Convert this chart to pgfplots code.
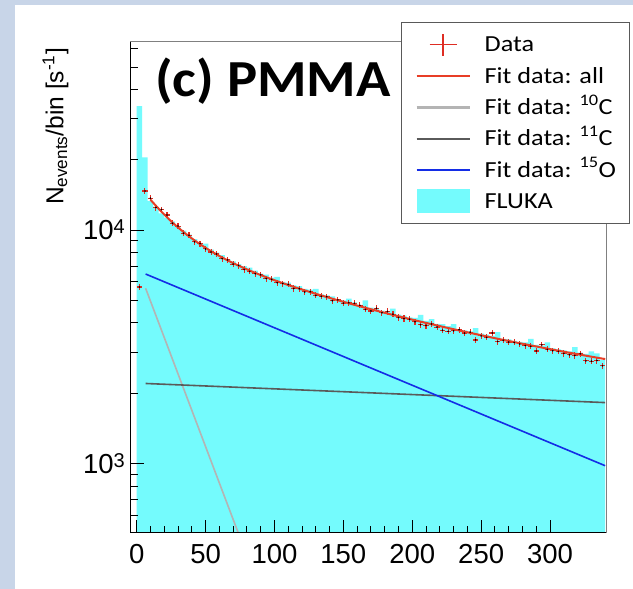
\documentclass[border=0pt]{standalone}
\usepackage{pgfplots}
\pgfplotsset{compat=1.18}
\usepackage{pgfplotstable}
\usepackage{fontspec}
\setmainfont{Liberation Sans}
\newfontfamily\calibri{Carlito}[FakeStretch=1.14]
\newfontfamily\calibrititle{Carlito}[FakeStretch=1.09]
\definecolor{bgblue}{RGB}{200,213,232}
\definecolor{fluka}{RGB}{116,251,253}
\definecolor{fitred}{RGB}{232,62,38}
\definecolor{datared}{RGB}{222,45,35}
\definecolor{cten}{RGB}{180,180,180}
\definecolor{celeven}{RGB}{90,90,90}
\definecolor{ofifteen}{RGB}{20,45,230}

\pgfplotstableread{
t data
2 5700
6 14700
10 13700
14 12500
18 12250
22 11600
26 10700
30 10400
34 9700
38 9500
42 8900
46 8750
50 8300
54 8050
58 7900
62 7550
66 7450
70 7150
74 7050
78 6780
82 6650
86 6500
90 6430
94 6200
98 6150
102 5950
106 5900
110 5850
114 5620
118 5600
122 5430
126 5440
130 5250
134 5200
138 5180
142 4980
146 5020
150 4860
154 4880
158 4850
162 4760
166 4570
170 4500
174 4620
178 4420
182 4480
186 4360
190 4220
194 4180
198 4150
202 4050
206 3930
210 3900
214 3960
218 3840
222 3720
226 3680
230 3700
234 3740
238 3620
242 3650
246 3380
250 3520
254 3470
258 3620
262 3330
266 3370
270 3310
274 3300
278 3250
282 3200
286 3180
290 3030
294 3220
298 3080
302 3040
306 3020
310 2960
314 2920
318 2900
322 2950
326 2750
330 2740
334 2760
338 2620
}\datatab

\pgfplotstableread{
x y
0 34000
4 20500
8 13300
12 12600
16 11800
20 11300
24 10900
28 10300
32 9950
36 9550
40 9150
44 8800
48 8750
52 8250
56 8000
60 7800
64 7500
68 7350
72 7150
76 7000
80 6900
84 6700
88 6500
92 6450
96 6250
100 6300
104 6000
108 5950
112 5800
116 5750
120 5600
124 5550
128 5600
132 5300
136 5250
140 5200
144 5050
148 5000
152 5080
156 4900
160 4780
164 5000
168 4650
172 4580
176 4520
180 4450
184 4600
188 4340
192 4300
196 4220
200 4200
204 4330
208 4080
212 4150
216 3960
220 3950
224 3880
228 3950
232 3760
236 3720
240 3680
244 3800
248 3600
252 3560
256 3520
260 3650
264 3420
268 3400
272 3350
276 3320
280 3300
284 3420
288 3220
292 3200
296 3300
300 3110
304 3080
308 3050
312 3020
316 3150
320 2980
324 2950
328 3020
332 2960
336 2780
340 2780
}\flukatab

\pgfplotstableread{
t y
10 13500
14 12703
18 11983
22 11344
26 10774
30 10265
34 9809
38 9398
42 9029
46 8695
50 8392
54 8115
58 7862
62 7630
66 7417
70 7219
74 7036
78 6865
82 6705
86 6555
90 6414
94 6281
98 6155
102 6035
106 5921
110 5813
114 5708
118 5609
122 5513
126 5420
130 5331
134 5245
138 5161
142 5080
146 5002
150 4926
154 4853
158 4781
162 4711
166 4643
170 4577
174 4513
178 4450
182 4388
186 4328
190 4270
194 4214
198 4158
202 4104
206 4051
210 4000
214 3949
218 3900
222 3851
226 3804
230 3758
234 3713
238 3668
242 3625
246 3583
250 3542
254 3500
258 3460
262 3421
266 3383
270 3346
274 3309
278 3273
282 3238
286 3204
290 3170
294 3137
298 3104
302 3072
306 3041
310 3010
314 2980
318 2951
322 2922
326 2894
330 2866
334 2839
338 2812
340 2799
}\fittab

\begin{document}
\begin{tikzpicture}[x=1pt,y=1pt]
\fill[bgblue] (0,0) rectangle (633,589);
\fill[white] (15,0) rectangle (633,584);
\begin{axis}[
  at={(131pt,56pt)}, anchor=south west,
  scale only axis, width=475pt, height=491pt,
  xmin=-4.1, xmax=340.6, ymode=log, ymin=503, ymax=64000,
  axis on top,
  axis line style={draw=black!50, line width=1pt},
  tick pos=left, tick align=inside,
  major tick length=13pt, minor tick length=7pt,
  tick style={black, line width=0.9pt},
  xtick={0,50,...,300}, xticklabels={0,50,100,150,200,250,300},
  minor x tick num=4,
  ytick={1000,10000},
  yticklabels={{10\raisebox{6pt}{\fontsize{20}{20}\selectfont 3}},{10\raisebox{6pt}{\fontsize{20}{20}\selectfont 4}}},
  minor ytick={600,700,800,900,2000,3000,4000,5000,6000,7000,8000,9000,20000,30000,40000,50000,60000},
  ticklabel style={font=\fontsize{27.5}{30}\selectfont, inner sep=0pt},
  xticklabel style={anchor=base, yshift=-31pt},
  yticklabel style={anchor=east, xshift=-6pt},
  legend style={at={(0.5684,1.0401)}, anchor=north west, draw=black!65, line width=1pt, fill=white,
    inner xsep=14pt, inner ysep=8pt, row sep=3.3pt, column sep=14pt,
    font=\calibri\fontsize{23}{28}\selectfont,
    nodes={inner sep=0pt, text height=21pt, text depth=7pt}, cells={anchor=west}},
  after end axis/.code={\draw[black, line width=1pt] (rel axis cs:0,1) -- (rel axis cs:0,0) -- (rel axis cs:1,0);},
]
\addlegendimage{legend image code/.code={\path[draw=none,fill=none] (0pt,0pt) -- (53pt,0pt); \draw[datared, line width=1.2pt, overlay] (13pt,0pt) -- (40pt,0pt) (26.5pt,-11pt) -- (26.5pt,11pt);}}
\addlegendentry{Data}
\addlegendimage{legend image code/.code={\draw[fitred, line width=2.2pt] (0pt,0pt) -- (53pt,0pt);}}
\addlegendentry{Fit data: all}
\addlegendimage{legend image code/.code={\draw[cten, line width=2.2pt] (0pt,0pt) -- (53pt,0pt);}}
\addlegendentry{Fit data: \textsuperscript{10}C}
\addlegendimage{legend image code/.code={\draw[celeven, line width=2.2pt] (0pt,0pt) -- (53pt,0pt);}}
\addlegendentry{Fit data: \textsuperscript{11}C}
\addlegendimage{legend image code/.code={\draw[ofifteen, line width=2.2pt] (0pt,0pt) -- (53pt,0pt);}}
\addlegendentry{Fit data: \textsuperscript{15}O}
\addlegendimage{legend image code/.code={\path[draw=none,fill=none] (0pt,0pt) -- (53pt,0pt); \fill[fluka, draw=none, overlay] (0pt,-12pt) rectangle (53pt,12pt);}}
\addlegendentry{FLUKA}

\addplot[fill=fluka, draw=none, const plot mark left, forget plot] table[x=x,y=y]{\flukatab} \closedcycle;
\addplot[forget plot, only marks, mark=*, mark size=0.6pt, mark options={fill=black!70!red, draw=none},
  error bars/.cd, x dir=both, x fixed=2, y dir=both, y fixed relative=0.03,
  error bar style={datared, line width=1.1pt}, error mark=none] table[x=t,y=data]{\datatab};
\addplot[forget plot, cten, line width=1.6pt] coordinates {(6.5,5630) (80,402)};
\addplot[forget plot, celeven, line width=1.6pt] coordinates {(6.5,2200) (340,1822)};
\addplot[forget plot, ofifteen, line width=1.6pt] coordinates {(6.5,6480) (340,977)};
\addplot[forget plot, fitred, line width=2pt] table[x=t,y=y]{\fittab};
\end{axis}
\node[anchor=base west, inner sep=0pt, font=\calibrititle\bfseries\fontsize{52}{60}\selectfont] at (155,492) {(c) PMMA};
\node[rotate=90, anchor=base, inner sep=0pt, font=\fontsize{24.5}{28}\selectfont] at (63.3,462.5) {N\textsubscript{events}/bin [s\textsuperscript{-1}]};
\end{tikzpicture}
\end{document}
